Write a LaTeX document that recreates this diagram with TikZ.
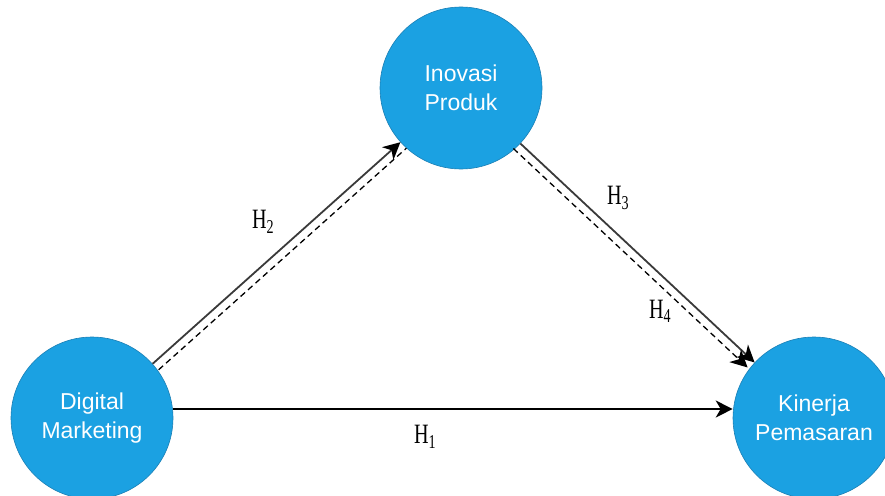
\documentclass[tikz,border=0pt]{standalone}
\usepackage{fontspec}
\usepackage{graphicx}
\setmainfont{Liberation Sans}
\newfontfamily\hypfont{Liberation Serif}
\usetikzlibrary{arrows.meta}
\definecolor{varblue}{HTML}{1BA1E2}
\definecolor{varedge}{HTML}{1A7FB5}
\definecolor{linkgray}{HTML}{3A3A3A}

\begin{document}
\begin{tikzpicture}[
  x=1pt,
  y=-1pt,
  every node/.style={inner sep=0pt},
  construct/.style={circle, fill=varblue, draw=varedge, line width=0.6pt,
    minimum size=162pt, text=white, align=center,
    font=\fontsize{23}{29}\selectfont},
  link/.style={linkgray, line width=1.8pt, -{Stealth[length=17pt, width=17pt, inset=5pt, black]}},
  direct/.style={black, line width=1.6pt, -{Stealth[length=17pt, width=17pt, inset=5pt]}},
  indirect/.style={black, line width=1.3pt, dash pattern=on 6pt off 4pt},
  hyp/.style={font=\hypfont\fontsize{28}{28}\selectfont}
]
  \useasboundingbox (0,0) rectangle (885,495);

  % ---- constructs ----
  \node[construct] (ip) at (461,88) {Inovasi\\Produk};
  \node[construct] (dm) at (92,418) {Digital\\Marketing};
  \node[construct] (kp) at (814,418) {Kinerja\\Pemasaran};

  % ---- direct paths ----
  \draw[direct, transform canvas={yshift=9pt}] (dm.east) -- (kp.west);
  \draw[link] (dm) -- (ip);
  \draw[link] (ip) -- (kp);

  % ---- mediated path (dashed, inside the triangle) ----
  \draw[indirect, transform canvas={xshift=6pt, yshift=-6pt}] (dm) -- (ip);
  \draw[indirect, -{Stealth[length=17pt, width=17pt, inset=5pt]},
        transform canvas={xshift=-7pt, yshift=-5pt}] (ip) -- (kp);

  % ---- hypothesis labels ----
  \node[hyp] (h1) at (425,437) {\scalebox{0.72}[1]{H\textsubscript{1}}};
  \node[hyp] (h2) at (263,222) {\scalebox{0.72}[1]{H\textsubscript{2}}};
  \node[hyp] (h3) at (618,198) {\scalebox{0.72}[1]{H\textsubscript{3}}};
  \node[hyp] (h4) at (660,311) {\scalebox{0.72}[1]{H\textsubscript{4}}};
\end{tikzpicture}
\end{document}
